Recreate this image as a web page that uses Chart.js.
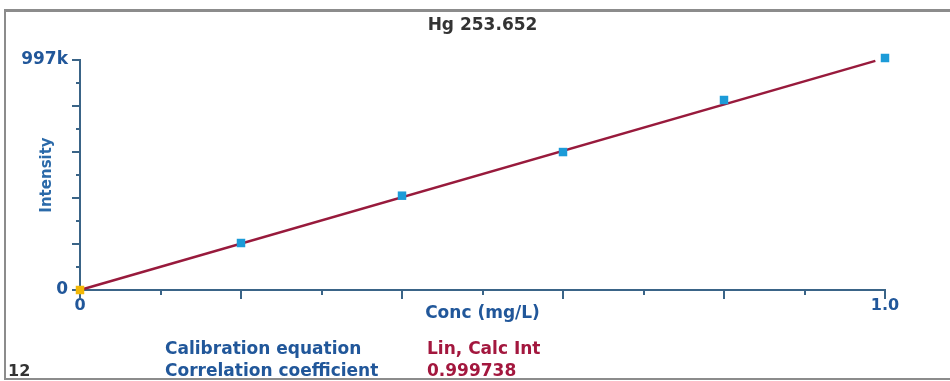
<!DOCTYPE html>
<html>
<head>
<meta charset="utf-8">
<script src="https://cdn.jsdelivr.net/npm/chart.js@4.4.1/dist/chart.umd.min.js"></script>
<style>
    html, body { margin: 0; padding: 0; background: #fff; }
    #wrap { position: relative; width: 950px; height: 381px; overflow: hidden; }
    #frame {
        position: absolute; left: 4px; top: 9px; width: 960px; height: 366px;
        border-top: 3px solid #8c8c8c; border-left: 2px solid #8c8c8c; border-bottom: 2px solid #8c8c8c;
    }
    #calib { position: absolute; left: 0; top: 0; }
</style>
</head>
<body>
<div id="wrap">
    <div id="frame"></div>
    <canvas id="calib" width="950" height="381"></canvas>
</div>
<script>
// Данные калибровки
const chartTitle = 'Hg 253.652';
const concentrations = [0, 0.2, 0.4, 0.6, 0.8, 1.0];
const intensities = [0, 203700, 408800, 598000, 823600, 1005700];
const fitConc = [0, 0.988];
const fitIntensity = [0, 993000];
const xTickText = ['0', '', '', '', '', '', '', '', '', '', '1.0'];
const yTickText = ['0', '', '', '', '', '', '', '', '', '', '997k'];
const statLabels = ['Calibration equation', 'Correlation coefficient'];
const statValues = ['Lin, Calc Int', '0.999738'];
const standardNo = '12';

const FONT = "'DejaVu Sans', Verdana, sans-serif";
const axisColor = '#3a6487';
const blueText = '#21579a';

// Засечки разной длины (длинные на чётных делениях)
const tickMarks = {
    id: 'tickMarks',
    beforeDatasetsDraw(chart) {
        const ctx = chart.ctx;
        const xs = chart.scales.x;
        const ys = chart.scales.y;
        ctx.save();
        ctx.strokeStyle = axisColor;
        ctx.lineWidth = 2;
        xs.ticks.forEach((t, i) => {
            const px = Math.round(xs.getPixelForTick(i));
            const len = i % 2 === 0 ? 9 : 5;
            ctx.beginPath();
            ctx.moveTo(px, xs.top);
            ctx.lineTo(px, xs.top + len);
            ctx.stroke();
        });
        ys.ticks.forEach((t, i) => {
            const py = Math.round(ys.getPixelForTick(i));
            const len = i % 2 === 0 ? 8 : 4;
            ctx.beginPath();
            ctx.moveTo(ys.right, py);
            ctx.lineTo(ys.right - len, py);
            ctx.stroke();
        });
        ctx.restore();
    }
};

// Подписи под графиком
const statsText = {
    id: 'statsText',
    afterDraw(chart) {
        const ctx = chart.ctx;
        ctx.save();
        ctx.font = 'bold 17px ' + FONT;
        ctx.textBaseline = 'alphabetic';
        ctx.textAlign = 'left';
        statLabels.forEach((label, i) => {
            const y = 354 + i * 22;
            ctx.fillStyle = blueText;
            ctx.fillText(label, 165, y);
            ctx.fillStyle = '#a3173e';
            ctx.fillText(statValues[i], 427, y);
        });
        ctx.font = 'bold 16px ' + FONT;
        ctx.fillStyle = '#333';
        ctx.fillText(standardNo, 8, 376);
        ctx.restore();
    }
};

const points = concentrations.map((c, i) => ({ x: c, y: intensities[i] }));
const fitPoints = fitConc.map((c, i) => ({ x: c, y: fitIntensity[i] }));
const pointColors = concentrations.map((c, i) => i === 0 ? '#f2b705' : '#1c9bd8');

new Chart(document.getElementById('calib').getContext('2d'), {
    type: 'scatter',
    data: {
        datasets: [
            {
                label: 'Standards',
                data: points,
                pointStyle: 'rect',
                pointRadius: 6,
                pointHoverRadius: 6,
                pointBorderWidth: 0,
                backgroundColor: pointColors,
                borderColor: pointColors,
                showLine: false,
                clip: false,
                order: 0
            },
            {
                label: 'Fit',
                data: fitPoints,
                showLine: true,
                borderColor: '#981a3c',
                borderWidth: 2.5,
                pointRadius: 0,
                fill: false,
                clip: false,
                order: 1
            }
        ]
    },
    options: {
        responsive: false,
        animation: false,
        layout: {
            padding: { left: 0, right: 65, top: 10, bottom: 57 }
        },
        plugins: {
            legend: { display: false },
            tooltip: { enabled: false },
            title: {
                display: true,
                fullSize: false,
                text: chartTitle,
                color: '#333',
                font: { family: FONT, size: 17, weight: 'bold' },
                padding: { top: 5, bottom: 24.6 }
            }
        },
        scales: {
            x: {
                type: 'linear',
                min: 0,
                max: 1,
                afterFit(scale) { scale.height = 34; },
                grid: { display: false, drawTicks: false },
                border: { display: true, color: axisColor, width: 2 },
                ticks: {
                    stepSize: 0.1,
                    autoSkip: false,
                    maxRotation: 0,
                    padding: 6,
                    color: blueText,
                    font: { family: FONT, size: 16, weight: 'bold' },
                    callback: (v, i) => xTickText[i]
                },
                title: {
                    display: true,
                    text: 'Conc (mg/L)',
                    color: blueText,
                    font: { family: FONT, size: 17, weight: 'bold' },
                    padding: { top: 0, bottom: 0 }
                }
            },
            y: {
                type: 'linear',
                min: 0,
                max: 997000,
                afterFit(scale) { scale.width = 80; },
                grid: { display: false, drawTicks: false },
                border: { display: true, color: axisColor, width: 2 },
                ticks: {
                    stepSize: 99700,
                    autoSkip: false,
                    padding: 12,
                    color: blueText,
                    font: { family: FONT, size: 17, weight: 'bold' },
                    callback: (v, i) => yTickText[i]
                },
                title: {
                    display: true,
                    text: 'Intensity',
                    color: '#2b6aa9',
                    font: { family: FONT, size: 15, weight: 'bold' },
                    padding: { top: 38, bottom: 0 }
                }
            }
        }
    },
    plugins: [tickMarks, statsText]
});
</script>
</body>
</html>
